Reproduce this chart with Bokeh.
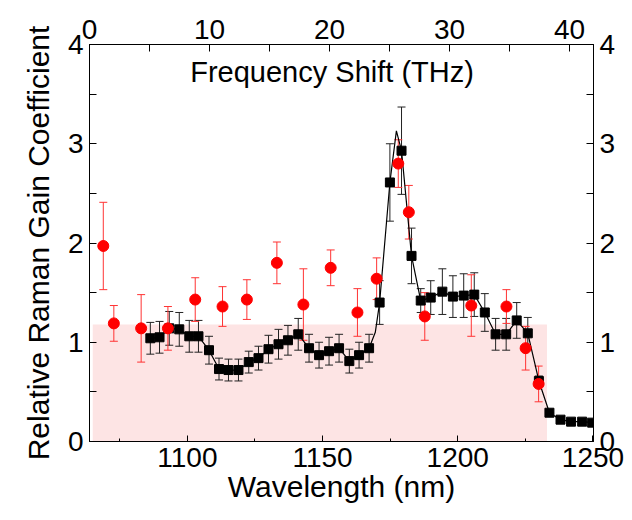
from bokeh.plotting import figure
from bokeh.models import Range1d, LinearAxis, Whisker, TeeHead, ColumnDataSource, Label, FixedTicker
from bokeh.embed import file_html
from bokeh.resources import INLINE

# Measured (black squares)
black_wl = [1086.3, 1089.7, 1093.3, 1097.0, 1100.7, 1104.1, 1108.0, 1111.7, 1115.2, 1118.9,
            1122.7, 1126.3, 1130.0, 1133.7, 1137.2, 1141.0, 1145.0, 1148.7, 1152.4, 1156.1,
            1159.9, 1163.5, 1167.2, 1171.1, 1174.9, 1179.2, 1182.9, 1186.3, 1190.0, 1194.3,
            1198.2, 1202.2, 1206.1, 1210.0, 1214.0, 1217.9, 1221.8, 1225.9, 1230.0, 1233.9,
            1238.0, 1241.9, 1246.0, 1249.7]
black_val = [1.04, 1.05, 1.14, 1.13, 1.06, 1.06, 0.92, 0.73, 0.72, 0.72,
             0.80, 0.84, 0.93, 0.98, 1.02, 1.08, 0.94, 0.87, 0.91, 0.94,
             0.81, 0.87, 0.94, 1.40, 2.61, 2.93, 1.87, 1.42, 1.45, 1.51,
             1.46, 1.47, 1.48, 1.30, 1.08, 1.08, 1.22, 1.09, 0.61, 0.29,
             0.22, 0.20, 0.20, 0.19]
black_err = [0.16, 0.16, 0.17, 0.17, 0.16, 0.16, 0.14, 0.11, 0.11, 0.11,
             0.11, 0.12, 0.14, 0.15, 0.15, 0.16, 0.14, 0.13, 0.14, 0.14,
             0.12, 0.13, 0.14, 0.22, 0.39, 0.44, 0.28, 0.12, 0.17, 0.23,
             0.21, 0.22, 0.22, 0.19, 0.16, 0.16, 0.18, 0.16, 0.05, 0.0,
             0.0, 0.0, 0.0, 0.0]

# Smooth guide curve (includes its peak)
curve_wl = [1086.3, 1089.7, 1093.3, 1097.0, 1100.7, 1104.1, 1108.0, 1111.7, 1115.2, 1118.9,
            1122.7, 1126.3, 1130.0, 1133.7, 1137.2, 1141.0, 1145.0, 1148.7, 1152.4, 1156.1,
            1159.9, 1163.5, 1167.2, 1169.5, 1171.1, 1174.9, 1177.3, 1179.2, 1182.9, 1186.3,
            1190.0, 1194.3, 1198.2, 1202.2, 1206.1, 1210.0, 1214.0, 1217.9, 1221.8, 1225.9,
            1230.0, 1233.9, 1238.0, 1241.9, 1246.0, 1249.7]
curve_val = [1.04, 1.05, 1.14, 1.13, 1.06, 1.06, 0.92, 0.73, 0.72, 0.72,
             0.80, 0.84, 0.93, 0.98, 1.02, 1.08, 0.94, 0.87, 0.91, 0.94,
             0.81, 0.87, 0.94, 1.10, 1.40, 2.61, 3.13, 2.93, 1.87, 1.42,
             1.45, 1.51, 1.46, 1.47, 1.48, 1.30, 1.08, 1.08, 1.22, 1.09,
             0.61, 0.29, 0.22, 0.20, 0.20, 0.19]

# Calculated (red circles)
red_wl = [1068.9, 1072.8, 1082.9, 1092.8, 1102.9, 1113.0, 1122.0, 1133.1, 1142.9, 1153.0,
          1162.9, 1170.0, 1178.0, 1181.9, 1187.8, 1205.0, 1218.0, 1225.1, 1229.9]
red_val = [1.97, 1.19, 1.14, 1.14, 1.43, 1.36, 1.43, 1.80, 1.38, 1.75,
           1.30, 1.64, 2.80, 2.31, 1.26, 1.37, 1.36, 0.94, 0.58]
red_err = [0.44, 0.18, 0.34, 0.22, 0.22, 0.20, 0.20, 0.21, 0.36, 0.18,
           0.24, 0.21, 0.24, 0.27, 0.24, 0.31, 0.17, 0.22, 0.18]

shade_wl = [1065.0, 1233.0]
shade_level = 1.18

FONT = "Liberation Sans"

p = figure(width=632, height=520, output_backend="svg", toolbar_location=None,
           x_range=Range1d(1063.8, 1250.2), y_range=Range1d(0, 4),
           min_border_left=89, min_border_right=39, min_border_top=44, min_border_bottom=79)
p.extra_x_ranges = {"freq": Range1d(0, 42.0)}
p.grid.visible = False
p.outline_line_color = "black"
p.background_fill_color = "white"
p.border_fill_color = "white"

p.quad(left=[shade_wl[0]], right=[shade_wl[1]], bottom=[0], top=[shade_level],
       fill_color="#fde4e4", line_color=None, level="image")

bsrc = ColumnDataSource(dict(x=black_wl, y=black_val,
                             lo=[v - e for v, e in zip(black_val, black_err)],
                             hi=[v + e for v, e in zip(black_val, black_err)]))
rsrc = ColumnDataSource(dict(x=red_wl, y=red_val,
                             lo=[v - e for v, e in zip(red_val, red_err)],
                             hi=[v + e for v, e in zip(red_val, red_err)]))

wb = Whisker(source=bsrc, base="x", upper="hi", lower="lo", line_color="#222222", line_width=1,
             upper_head=TeeHead(size=8, line_color="#222222", line_width=1),
             lower_head=TeeHead(size=8, line_color="#222222", line_width=1), level="underlay")
wr = Whisker(source=rsrc, base="x", upper="hi", lower="lo", line_color="#ff3333", line_width=1,
             upper_head=TeeHead(size=8, line_color="#ff3333", line_width=1),
             lower_head=TeeHead(size=8, line_color="#ff3333", line_width=1), level="underlay")
p.add_layout(wb)
p.add_layout(wr)

p.line(curve_wl, curve_val, line_color="black", line_width=1.2)
p.scatter("x", "y", source=bsrc, marker="square", size=9, fill_color="black", line_color="black")
p.scatter("x", "y", source=rsrc, marker="circle", size=11, fill_color="#ff0000", line_color="#ff0000")

def style(ax, major_len, minor_len):
    ax.major_label_text_font = FONT
    ax.major_label_text_font_size = "28px"
    ax.major_label_text_color = "black"
    ax.axis_label_text_font = FONT
    ax.axis_label_text_font_size = "30px"
    ax.axis_label_text_font_style = "normal"
    ax.axis_label_text_color = "black"
    ax.axis_line_color = "black"
    ax.major_tick_line_color = "black"
    ax.minor_tick_line_color = "black"
    ax.major_tick_in = major_len
    ax.major_tick_out = 0
    ax.minor_tick_in = minor_len
    ax.minor_tick_out = 0
    ax.major_label_standoff = 6

xb = p.xaxis[0]
xb.ticker = FixedTicker(ticks=[1100, 1150, 1200, 1250], minor_ticks=[1075, 1125, 1175, 1225])
xb.axis_label = "Wavelength (nm)"
style(xb, 6, 3)
xb.axis_label_standoff = 0

yl = p.yaxis[0]
yl.ticker = FixedTicker(ticks=[0, 1, 2, 3, 4], minor_ticks=[0.5, 1.5, 2.5, 3.5])
yl.axis_label = "Relative Raman Gain Coefficient"
style(yl, 7, 7)
yl.axis_label_standoff = 10

yr = LinearAxis()
yr.ticker = FixedTicker(ticks=[0, 1, 2, 3, 4], minor_ticks=[0.5, 1.5, 2.5, 3.5])
style(yr, 7, 7)
p.add_layout(yr, "right")

xt = LinearAxis(x_range_name="freq")
xt.ticker = FixedTicker(ticks=[0, 10, 20, 30, 40], minor_ticks=[5, 15, 25, 35])
style(xt, 7, 7)
p.add_layout(xt, "above")

p.add_layout(Label(x=1153.5, y=3.72, text="Frequency Shift (THz)", text_align="center",
                   text_baseline="middle", text_font=FONT, text_font_size="29px",
                   text_color="black"))

open("out.html", "w").write(file_html(p, INLINE))
